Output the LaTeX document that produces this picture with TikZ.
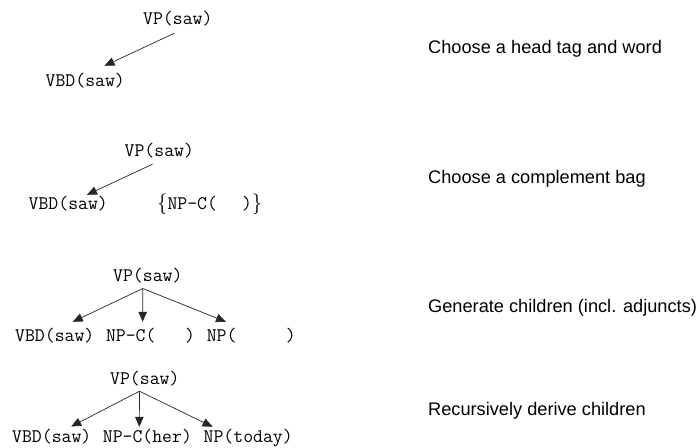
\documentclass[tikz,border=0pt]{standalone}
\usepackage{fontspec}
\setmainfont{Liberation Sans}
\usetikzlibrary{arrows.meta,calc}
\tikzset{
  cat/.style={font=\ttfamily\fontsize{19.2}{22}\selectfont, inner sep=0pt, anchor=base west, text height=10pt, text depth=3pt},
  lab/.style={font=\fontsize{18.2}{22}\selectfont, inner sep=0pt, anchor=base west},
  arr/.style={draw=black!85, line width=0.7pt, -{Triangle[length=10pt,width=8.5pt]}}
}
\begin{document}
\begin{tikzpicture}[x=1pt,y=-1pt]
\useasboundingbox (0,0) rectangle (700,447);
% tree 1
\node[cat] (vp1) at (143,24) {VP(saw)};
\node[cat] (vbd1) at (45.5,86) {VBD(saw)};
\draw[arr] ($(vp1.south)+(-3.3,6)$) -- ($(vbd1.north)+(19.2,-10)$);
% tree 2
\node[cat] (vp2) at (124.5,156) {VP(saw)};
\node[cat] (vbd2) at (28.5,209) {VBD(saw)};
\node[cat] (bag2) at (157,209) {$\{$NP-C(\hspace{25pt})$\}$};
\draw[arr] ($(vp2.south)+(-6.8,5)$) -- ($(vbd2.north)+(18.7,-4)$);
% tree 3
\node[cat] (vp3) at (113,281) {VP(saw)};
\node[cat] (vbd3) at (15,341.5) {VBD(saw)};
\node[cat] (npc3) at (105.8,341.5) {NP-C(\phantom{xxx})};
\node[cat] (np3) at (206.6,341.5) {NP(\phantom{xxxxx})};
\draw[arr] ($(vp3.south)+(-5,4.3)$) -- ($(vbd3.north)+(18,-9.5)$);
\draw[arr] ($(vp3.south)+(-5,4.3)$) -- ($(npc3.north)+(-7.9,-9.5)$);
\draw[arr] ($(vp3.south)+(-5,4.3)$) -- ($(np3.north)+(-25.3,-9.5)$);
% tree 4
\node[cat] (vp4) at (110,384) {VP(saw)};
\node[cat] (vbd4) at (12,442) {VBD(saw)};
\node[cat] (npc4) at (102.7,442) {NP-C(her)};
\node[cat] (np4) at (203.5,442) {NP(today)};
\draw[arr] ($(vp4.south)+(-5.3,4)$) -- ($(vbd4.north)+(19.4,-5.3)$);
\draw[arr] ($(vp4.south)+(-5.3,4)$) -- ($(npc4.north)+(-8.1,-5)$);
\draw[arr] ($(vp4.south)+(-5.3,4)$) -- ($(np4.north)+(-35.6,-5)$);
% labels
\node[lab] (l1) at (428,53.5) {Choose a head tag and word};
\node[lab] (l2) at (428,183) {Choose a complement bag};
\node[lab] (l3) at (428,312) {Generate children (incl. adjuncts)};
\node[lab] (l4) at (428,415) {Recursively derive children};
\end{tikzpicture}
\end{document}
